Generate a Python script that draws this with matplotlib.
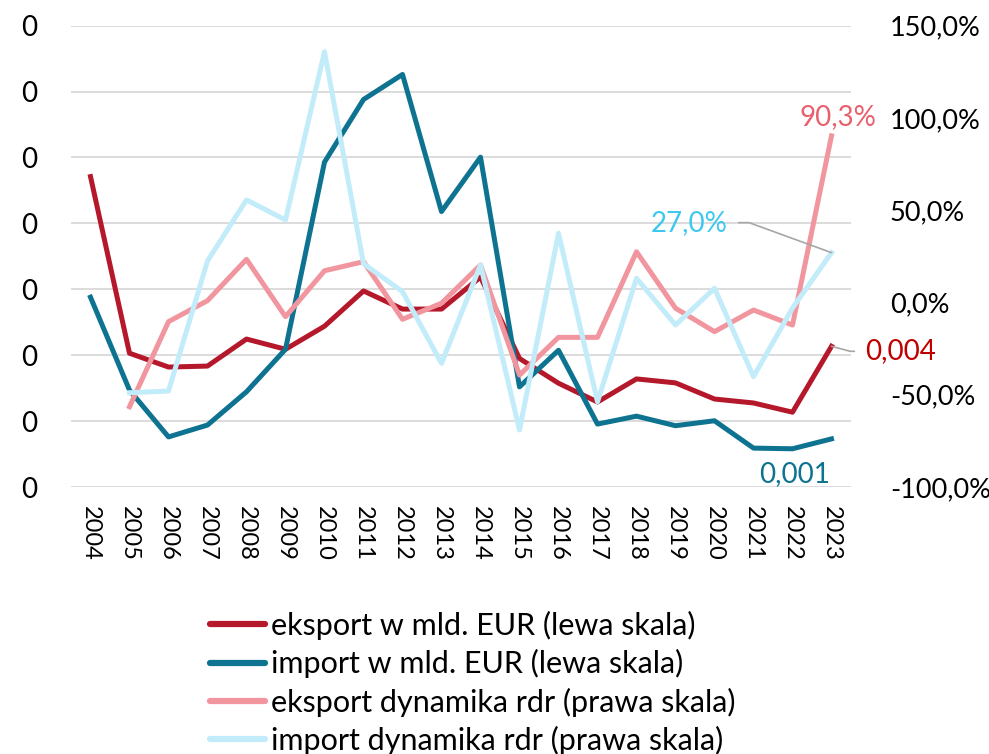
import matplotlib
matplotlib.use('Agg')
import matplotlib.pyplot as plt
from matplotlib.ticker import MultipleLocator, FuncFormatter

plt.rcParams['font.family'] = ['Lato', 'DejaVu Sans']

years = [str(y) for y in range(2004, 2024)]

# values in billions of EUR (left axis)
eksport = [0.00942, 0.00406, 0.00364, 0.00367, 0.00449, 0.00418, 0.00488, 0.00595,
           0.00540, 0.00540, 0.00637, 0.00390, 0.00315, 0.00258, 0.00328, 0.00316,
           0.00267, 0.00255, 0.00227, 0.00427]
import_ = [0.00576, 0.00294, 0.00152, 0.00188, 0.00289, 0.00418, 0.00986, 0.01176,
           0.01252, 0.00836, 0.01001, 0.00304, 0.00415, 0.00191, 0.00215, 0.00186,
           0.00201, 0.00118, 0.00116, 0.00146]

# year-on-year change in % (right axis), no value for 2004
eksport_dyn = [None, -56.5, -10.4, 1.0, 23.4, -7.7, 17.2, 22.1, -9.1, -0.4, 20.3,
               -39.3, -18.9, -18.9, 27.5, -3.1, -15.8, -4.1, -12.2, 90.3]
import_dyn = [None, -48.9, -48.0, 22.5, 55.6, 44.7, 135.9, 21.0, 5.9, -33.0, 20.3,
              -69.1, 37.5, -53.8, 13.1, -12.2, 7.7, -40.2, -3.0, 27.0]

labels = ['eksport w mld. EUR (lewa skala)', 'import w mld. EUR (lewa skala)',
          'eksport dynamika rdr (prawa skala)', 'import dynamika rdr (prawa skala)']

c_eks = '#B5182B'
c_imp = '#0E7391'
c_eks_dyn = '#F1959E'
c_imp_dyn = '#C2ECFA'


def pct(v, pos=None):
    return f'{v:.1f}%'.replace('.', ',')


fig = plt.figure(figsize=(9.89, 7.54), dpi=100)
ax = fig.add_axes([71 / 989, 1 - 487 / 754, 780 / 989, 461.3 / 754])
ax2 = ax.twinx()

x = list(range(len(years)))
lw = 3.6

ax.set_ylim(0, 0.014)
ax.yaxis.set_major_locator(MultipleLocator(0.002))
ax.yaxis.set_major_formatter(FuncFormatter(lambda v, p: '0'))
ax.grid(axis='y', color='#D9D9D9', lw=1.3)
ax.set_axisbelow(True)
ax.set_xlim(-0.5, len(years) - 0.5)
ax.set_xticks(x)
ax.set_xticklabels(years, rotation=-90, fontsize=17)

ax2.set_ylim(-100, 150)
ax2.yaxis.set_major_locator(MultipleLocator(50))
ax2.yaxis.set_major_formatter(FuncFormatter(pct))

for a in (ax, ax2):
    for s in a.spines.values():
        s.set_visible(False)
    a.tick_params(length=0)
ax.tick_params(axis='y', labelsize=20, pad=24)
ax.tick_params(axis='x', pad=14)
ax2.tick_params(axis='y', labelsize=19.5, pad=28)

l1, = ax.plot(x, eksport, color=c_eks, lw=lw, zorder=3)
l2, = ax.plot(x, import_, color=c_imp, lw=lw, zorder=3)
l3, = ax2.plot(x, [float('nan') if v is None else v for v in eksport_dyn],
               color=c_eks_dyn, lw=lw, zorder=2)
l4, = ax2.plot(x, [float('nan') if v is None else v for v in import_dyn],
               color=c_imp_dyn, lw=lw, zorder=2)

# value labels for the last year
last = len(years) - 1
ax2.annotate(pct(eksport_dyn[-1]), (last, eksport_dyn[-1]),
             xytext=(6, 19), textcoords='offset pixels', ha='center', va='center',
             fontsize=20, color='#E9606C')
ax2.annotate(pct(import_dyn[-1]), (last, import_dyn[-1]),
             xytext=(-104, 30), textcoords='offset pixels', ha='right', va='center',
             fontsize=20, color='#3DC8F0',
             arrowprops=dict(arrowstyle='-', color='#A6A6A6', lw=1.2,
                             shrinkA=6, shrinkB=0, relpos=(1, 0.5),
                             connectionstyle='angle,angleA=0,angleB=160,rad=0'))
ax.annotate(f'{eksport[-1]:.3f}'.replace('.', ','), (last, eksport[-1]),
            xytext=(34, -5), textcoords='offset pixels', ha='left', va='center',
            fontsize=20, color='#C00000',
            arrowprops=dict(arrowstyle='-', color='#A6A6A6', lw=1.2,
                            shrinkA=6, shrinkB=0, relpos=(0, 0.5),
                            connectionstyle='angle,angleA=0,angleB=-15,rad=0'))
ax.annotate(f'{import_[-1]:.3f}'.replace('.', ','), (last, import_[-1]),
            xytext=(-37, -35), textcoords='offset pixels', ha='center', va='center',
            fontsize=20, color=c_imp)

leg = fig.legend([l1, l2, l3, l4], labels, loc='upper left',
                 bbox_to_anchor=(210 / 989, 1 - 611 / 754), frameon=False,
                 fontsize=22, handlelength=1.8, handletextpad=0.2,
                 labelspacing=0.3, borderpad=0, borderaxespad=0)
for h in leg.get_lines():
    h.set_linewidth(4.5)
    h.set_solid_capstyle('round')

fig.savefig('out.png', dpi=100)
